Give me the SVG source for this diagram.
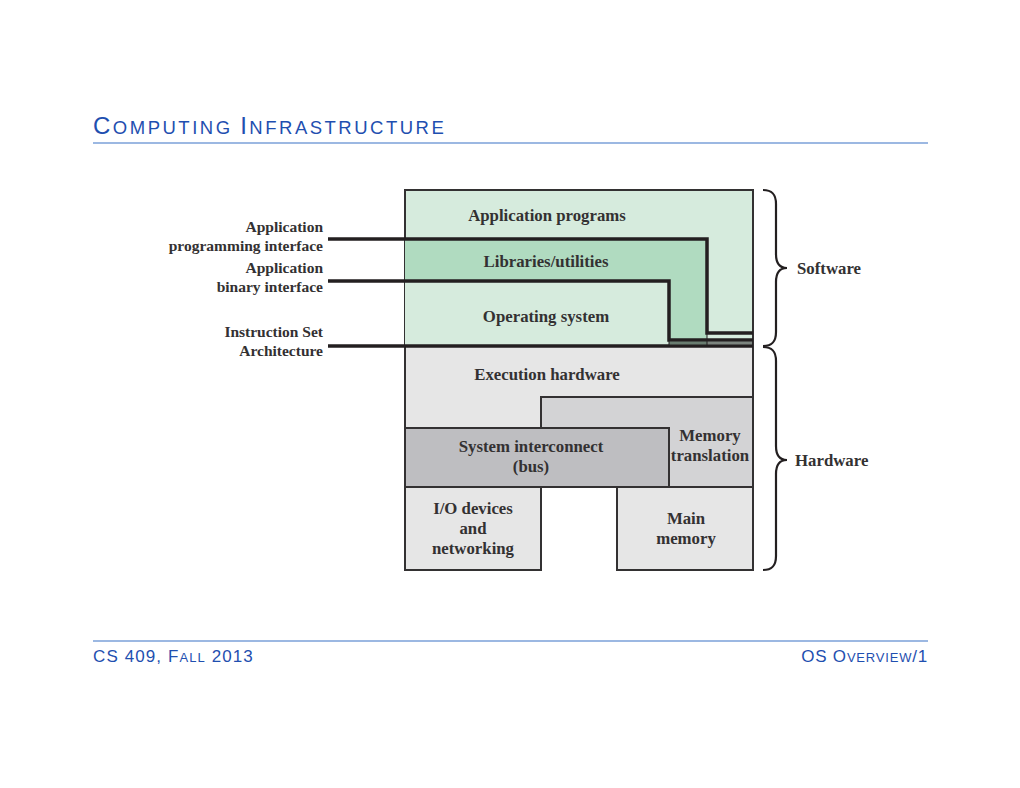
<svg xmlns="http://www.w3.org/2000/svg" width="1020" height="788" viewBox="0 0 1020 788">
<style>
.lbl{font-family:"Liberation Serif","Times New Roman",serif;font-weight:bold;font-size:16.8px;fill:#333132}
.side{font-size:15.5px}
.c{text-anchor:middle}
.r{text-anchor:end}
.box{stroke:#333132;stroke-width:2}
.iface{fill:none;stroke:#231f20;stroke-width:3.5}
.thin{fill:none;stroke:#231f20;stroke-width:1}
.brace{fill:none;stroke:#231f20;stroke-width:2.2}
.hdr{font-family:"Liberation Sans",Arial,sans-serif;fill:#1f4fb0}
.rule{stroke:#7ba1d8;stroke-width:1.5}
</style>
<rect width="1020" height="788" fill="#ffffff"/>
<g id="title">
<text class="hdr" x="93" y="134" letter-spacing="2.5"><tspan font-size="24">C</tspan><tspan font-size="18.5">OMPUTING </tspan><tspan font-size="24">I</tspan><tspan font-size="18.5">NFRASTRUCTURE</tspan></text>
<line class="rule" x1="93" y1="143" x2="928" y2="143"/>
</g>
<g id="software">
<rect id="app-programs" class="box" x="405" y="190" width="348" height="156" fill="#d6ebdd"/>
<polygon id="libraries" points="405,239 707,239 707,346 669,346 669,281 405,281" fill="#b0dbc0"/>
<rect id="os" x="405" y="281" width="264" height="65" fill="#d6ebdd"/>
<text class="lbl c" x="547" y="221">Application programs</text>
<text class="lbl c" x="546" y="267">Libraries/utilities</text>
<text class="lbl c" x="546" y="322">Operating system</text>
</g>
<g id="hardware">
<rect id="exec-hw" class="box" x="405" y="346" width="348" height="82" fill="#e6e6e6"/>
<rect id="mem-trans" class="box" x="541" y="397" width="212" height="90" fill="#d3d3d5"/>
<rect id="sys-bus" class="box" x="405" y="428" width="264" height="59" fill="#bebec1"/>
<rect id="io" class="box" x="405" y="487" width="136" height="83" fill="#e6e6e6"/>
<rect id="main-mem" class="box" x="617" y="487" width="136" height="83" fill="#e6e6e6"/>
<text class="lbl c" x="547" y="380">Execution hardware</text>
<text class="lbl c" x="531" y="452">System interconnect</text>
<text class="lbl c" x="531" y="472">(bus)</text>
<text class="lbl c" x="710" y="441">Memory</text>
<text class="lbl c" x="710" y="461">translation</text>
<text class="lbl c" x="473" y="514">I/O devices</text>
<text class="lbl c" x="473" y="534">and</text>
<text class="lbl c" x="473" y="554">networking</text>
<text class="lbl c" x="686" y="524">Main</text>
<text class="lbl c" x="686" y="544">memory</text>
</g>
<g id="connectors">
<line class="thin" x1="669" y1="338" x2="669" y2="346"/>
<line class="thin" x1="707" y1="331" x2="707" y2="346"/>
<line class="thin" x1="669" y1="343" x2="753" y2="343"/>
<path id="api" class="iface" d="M328,239 H707 V333 H753"/>
<path id="abi" class="iface" d="M328,281 H669 V340 H753"/>
<path id="isa" class="iface" d="M328,346 H753"/>
<path class="brace" d="M763,190 C772,190 776,194 776,204 L776,254 C776,263 780,268 787,268 C780,268 776,273 776,282 L776,332 C776,342 772,346 763,346"/>
<path class="brace" d="M763,347 C772,347 776,351 776,361 L776,446 C776,455 780,460 787,460 C780,460 776,465 776,474 L776,556 C776,566 772,570 763,570"/>
</g>
<g id="labels">
<text class="lbl side r" x="323" y="232">Application</text>
<text class="lbl side r" x="323" y="251">programming interface</text>
<text class="lbl side r" x="323" y="273">Application</text>
<text class="lbl side r" x="323" y="292">binary interface</text>
<text class="lbl side r" x="323" y="337">Instruction Set</text>
<text class="lbl side r" x="323" y="356">Architecture</text>
<text class="lbl" x="797" y="274">Software</text>
<text class="lbl" x="795" y="466">Hardware</text>
</g>
<g id="footer">
<line class="rule" x1="93" y1="641" x2="928" y2="641"/>
<text class="hdr" x="93" y="662" letter-spacing="1.1"><tspan font-size="17">CS 409, F</tspan><tspan font-size="13">ALL</tspan><tspan font-size="17"> 2013</tspan></text>
<text class="hdr" x="928" y="662" text-anchor="end" letter-spacing="0.8"><tspan font-size="17">OS O</tspan><tspan font-size="13">VERVIEW</tspan><tspan font-size="17">/1</tspan></text>
</g>
</svg>
